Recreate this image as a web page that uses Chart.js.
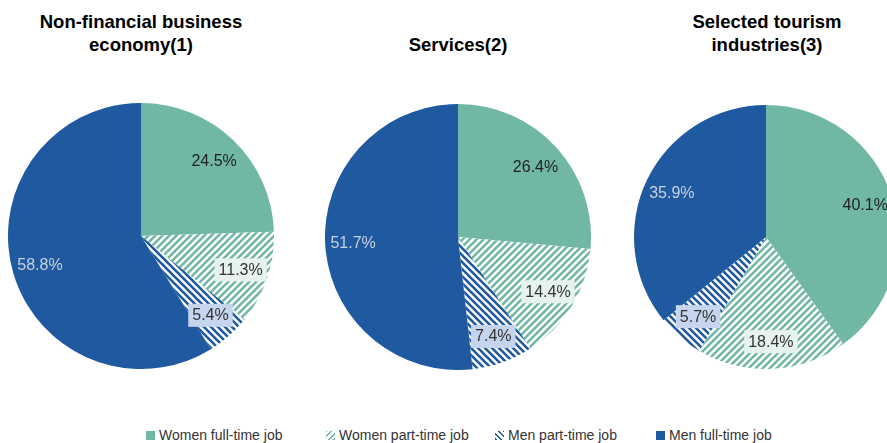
<!DOCTYPE html>
<html>
<head>
<meta charset="utf-8">
<script src="https://cdn.jsdelivr.net/npm/chart.js@4/dist/chart.umd.min.js"></script>
<style>
  html, body { margin: 0; padding: 0; background: #fff; }
  body { width: 887px; height: 443px; position: relative; overflow: hidden; font-family: "Liberation Sans", Arial, sans-serif; }
  .title { position: absolute; top: 10px; width: 270px; text-align: center; font-weight: bold; font-size: 18.5px; line-height: 23px; color: #000; }
  .pie { position: absolute; }
  #legend { position: absolute; top: 426px; left: 0; width: 887px; height: 18px; font-size: 14px; color: #333; }
  .item { position: absolute; top: 0; white-space: nowrap; line-height: 18px; }
  .swatch { display: inline-block; width: 9px; height: 9px; margin-right: 4px; vertical-align: 0px; }
</style>
</head>
<body>
<div class="title" style="left:6px">Non-financial business<br>economy(1)</div>
<div class="title" style="left:323px; top:33px">Services(2)</div>
<div class="title" style="left:632px">Selected tourism<br>industries(3)</div>

<div class="pie" style="left:8px; top:103px; width:266px; height:266px"><canvas id="pie1"></canvas></div>
<div class="pie" style="left:325px; top:104px; width:266px; height:266px"><canvas id="pie2"></canvas></div>
<div class="pie" style="left:634px; top:105px; width:264px; height:264px"><canvas id="pie3"></canvas></div>

<div id="legend"></div>

<script>
const categories = ["Women full-time job", "Women part-time job", "Men part-time job", "Men full-time job"];
const nonFinancial = [24.5, 11.3, 5.4, 58.8];
const services = [26.4, 14.4, 7.4, 51.7];
const tourism = [40.1, 18.4, 5.7, 35.9];

const GREEN = "#71b8a4";
const BLUE = "#1f59a0";
const labelText = ["#222", "#333", "#333", "#c8d1e0"];
const labelBox = [null, "#e6f2ee", "#c6d5ee", null];

// white tile with diagonal stripes, dir > 0 gives "/", otherwise "\"
function stripes(color, dir) {
  const s = 7;
  const c = document.createElement("canvas");
  c.width = s;
  c.height = s;
  const ctx = c.getContext("2d");
  ctx.fillStyle = "#fff";
  ctx.fillRect(0, 0, s, s);
  ctx.strokeStyle = color;
  ctx.lineWidth = 2.6;
  ctx.beginPath();
  for (const o of [-s, 0, s]) {
    if (dir > 0) {
      ctx.moveTo(o - 1, s + 1); ctx.lineTo(o + s + 1, -1);
    } else {
      ctx.moveTo(o - 1, -1); ctx.lineTo(o + s + 1, s + 1);
    }
  }
  ctx.stroke();
  return ctx.createPattern(c, "repeat");
}

const sliceLabels = {
  id: "sliceLabels",
  afterDatasetsDraw(chart) {
    const ctx = chart.ctx;
    const meta = chart.getDatasetMeta(0);
    const values = chart.data.datasets[0].data;
    ctx.save();
    ctx.font = "16px 'Liberation Sans', Arial, sans-serif";
    ctx.textAlign = "center";
    ctx.textBaseline = "middle";
    meta.data.forEach((arc, i) => {
      const mid = (arc.startAngle + arc.endAngle) / 2;
      const r = arc.outerRadius * 0.79;
      const x = arc.x + Math.cos(mid) * r;
      const y = arc.y + Math.sin(mid) * r;
      const txt = values[i].toFixed(1) + "%";
      const w = ctx.measureText(txt).width;
      if (labelBox[i]) {
        ctx.fillStyle = labelBox[i];
        ctx.fillRect(x - w / 2 - 4, y - 11, w + 8, 23);
      }
      ctx.fillStyle = labelText[i];
      ctx.fillText(txt, x, y + 1);
    });
    ctx.restore();
  },
};

function makePie(canvas, values) {
  return new Chart(canvas, {
    type: "pie",
    data: {
      labels: categories,
      datasets: [
        {
          data: values,
          backgroundColor: [GREEN, stripes(GREEN, 1), stripes(BLUE, -1), BLUE],
          borderWidth: 0,
        },
      ],
    },
    options: {
      responsive: true,
      maintainAspectRatio: false,
      animation: false,
      layout: { padding: 0 },
      plugins: {
        legend: { display: false },
        tooltip: { enabled: false },
      },
    },
    plugins: [sliceLabels],
  });
}

makePie(document.getElementById("pie1"), nonFinancial);
makePie(document.getElementById("pie2"), services);
makePie(document.getElementById("pie3"), tourism);

// legend
const legend = document.getElementById("legend");
const legendLeft = [146, 326, 495, 656];
const swatchBg = [
  GREEN,
  `repeating-linear-gradient(-45deg, ${GREEN} 0 1.5px, #fff 1.5px 4px)`,
  `repeating-linear-gradient(45deg, ${BLUE} 0 1.5px, #fff 1.5px 4px)`,
  BLUE,
];
categories.forEach((name, i) => {
  const item = document.createElement("span");
  item.className = "item";
  item.style.left = legendLeft[i] + "px";
  const sw = document.createElement("span");
  sw.className = "swatch";
  sw.style.background = swatchBg[i];
  item.appendChild(sw);
  item.appendChild(document.createTextNode(name));
  legend.appendChild(item);
});
</script>
</body>
</html>
